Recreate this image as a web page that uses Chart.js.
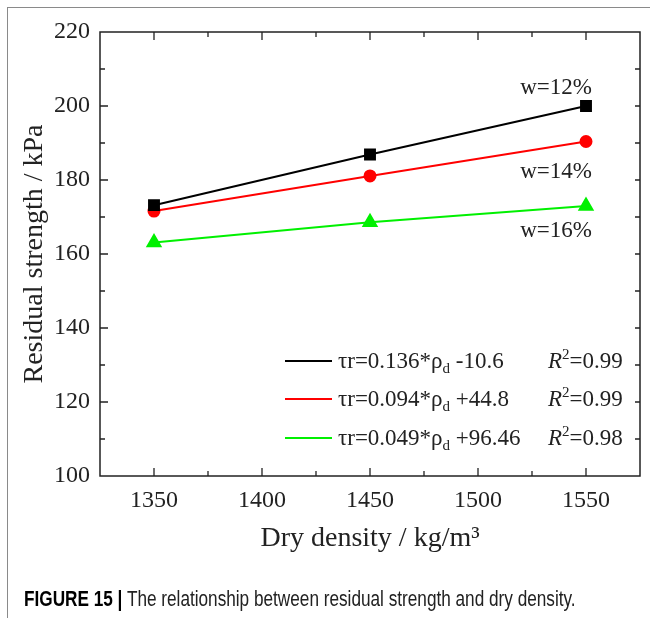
<!DOCTYPE html>
<html>
<head>
<meta charset="utf-8">
<script src="https://cdn.jsdelivr.net/npm/chart.js@4.4.1/dist/chart.umd.min.js"></script>
<style>
  body { margin: 0; background: #fff; }
  #wrap { position: relative; width: 650px; height: 618px; overflow: hidden; }
  #frame { position: absolute; left: 7px; top: 7px; right: -2px; bottom: -2px;
           border-left: 1px solid #8a8a8a; border-top: 1px solid #8a8a8a; }
  #caption { position: absolute; left: 24px; top: 586px; font-family: "Liberation Sans", sans-serif;
             font-size: 17.2px; line-height: 20px; color: #222; white-space: nowrap;
             transform: scaleY(1.25); transform-origin: 0 0; }
  #caption b { color: #000; }
</style>
</head>
<body>
<div id="wrap">
  <div id="frame"></div>
  <canvas id="myChart" width="650" height="618"></canvas>
  <div id="caption"><b>FIGURE 15 |</b> The relationship between residual strength and dry density.</div>
</div>
<script>
// data
var dryDensity = [1350, 1450, 1550];
var w12 = [173.2, 186.9, 200.0];
var w14 = [171.6, 181.1, 190.4];
var w16 = [163.1, 168.6, 173.0];

var seriesNames = ["w=12%", "w=14%", "w=16%"];
var fitSlope = ["0.136", "0.094", "0.049"];
var fitIntercept = ["-10.6", "+44.8", "+96.46"];
var fitR2 = ["0.99", "0.99", "0.98"];

var lineColors = ["#000000", "#ff0000", "#00f000"];
var serif = '"Liberation Serif", "Times New Roman", serif';

function toPoints(ys) {
  return dryDensity.map(function (x, i) { return { x: x, y: ys[i] }; });
}

// inward ticks on all four sides plus the box
var frameTicks = {
  id: 'frameTicks',
  afterDraw: function (chart) {
    var ctx = chart.ctx, a = chart.chartArea;
    var xs = chart.scales.x, ys = chart.scales.y;
    ctx.save();
    ctx.strokeStyle = '#222';
    ctx.lineWidth = 1.5;
    ctx.strokeRect(a.left, a.top, a.right - a.left, a.bottom - a.top);
    ctx.lineWidth = 1.3;
    ctx.beginPath();
    xs.ticks.forEach(function (t) {
      if (t.value <= xs.min || t.value >= xs.max) return;
      var px = xs.getPixelForValue(t.value);
      var len = t.value % 50 === 0 ? 8 : 5;
      ctx.moveTo(px, a.bottom); ctx.lineTo(px, a.bottom - len);
      ctx.moveTo(px, a.top); ctx.lineTo(px, a.top + len);
    });
    ys.ticks.forEach(function (t) {
      if (t.value <= ys.min || t.value >= ys.max) return;
      var py = ys.getPixelForValue(t.value);
      var len = t.value % 20 === 0 ? 8 : 5;
      ctx.moveTo(a.left, py); ctx.lineTo(a.left + len, py);
      ctx.moveTo(a.right, py); ctx.lineTo(a.right - 5, py);
    });
    ctx.stroke();
    ctx.restore();
  }
};

// series labels next to the last points and the fit legend
var notes = {
  id: 'notes',
  afterDraw: function (chart) {
    var ctx = chart.ctx, xs = chart.scales.x, ys = chart.scales.y;
    var last = dryDensity.length - 1;
    var lastY = [w12[last], w14[last], w16[last]];
    var dy = [-18, 30, 25];
    ctx.save();
    ctx.fillStyle = '#222';
    ctx.font = '23px ' + serif;
    ctx.textAlign = 'right';
    ctx.textBaseline = 'middle';
    for (var i = 0; i < 3; i++) {
      ctx.fillText(seriesNames[i], xs.getPixelForValue(dryDensity[last]) + 6, ys.getPixelForValue(lastY[i]) + dy[i]);
    }

    ctx.textAlign = 'left';
    ctx.textBaseline = 'alphabetic';
    var rows = [368, 406, 445];
    for (var j = 0; j < 3; j++) {
      var y = rows[j];
      ctx.strokeStyle = lineColors[j];
      ctx.lineWidth = 2;
      ctx.beginPath();
      ctx.moveTo(285, y - 7); ctx.lineTo(332, y - 7);
      ctx.stroke();

      var x = 338;
      ctx.font = '23px ' + serif;
      var s1 = 'τr=' + fitSlope[j] + '*ρ';
      ctx.fillText(s1, x, y); x += ctx.measureText(s1).width;
      ctx.font = '15px ' + serif;
      ctx.fillText('d', x, y + 5); x += ctx.measureText('d').width;
      ctx.font = '23px ' + serif;
      ctx.fillText(' ' + fitIntercept[j], x, y);

      x = 548;
      ctx.font = 'italic 23px ' + serif;
      ctx.fillText('R', x, y); x += ctx.measureText('R').width;
      ctx.font = '15px ' + serif;
      ctx.fillText('2', x, y - 9); x += ctx.measureText('2').width;
      ctx.font = '23px ' + serif;
      ctx.fillText('=' + fitR2[j], x, y);
    }
    ctx.restore();
  }
};

new Chart("myChart", {
  type: "line",
  data: {
    datasets: [
      { label: seriesNames[0], data: toPoints(w12), borderColor: lineColors[0], backgroundColor: lineColors[0],
        pointStyle: 'rect', pointRadius: 7, borderWidth: 2 },
      { label: seriesNames[1], data: toPoints(w14), borderColor: lineColors[1], backgroundColor: lineColors[1],
        pointStyle: 'circle', pointRadius: 5.5, borderWidth: 2 },
      { label: seriesNames[2], data: toPoints(w16), borderColor: lineColors[2], backgroundColor: lineColors[2],
        pointStyle: 'triangle', pointRadius: 7.5, borderWidth: 2 }
    ]
  },
  options: {
    responsive: false,
    animation: false,
    devicePixelRatio: 1,
    layout: { padding: { left: 0, top: 32, right: 8, bottom: 62 } },
    plugins: { legend: { display: false }, tooltip: { enabled: false } },
    elements: { line: { tension: 0 }, point: { borderWidth: 0 } },
    scales: {
      x: {
        type: 'linear', min: 1325, max: 1575,
        grid: { display: false, drawTicks: false },
        border: { display: false },
        ticks: {
          stepSize: 25, padding: 10, color: '#222', maxRotation: 0, autoSkip: false,
          font: { family: serif, size: 24 },
          callback: function (v) { return v % 50 === 0 ? String(v) : ''; }
        },
        title: { display: true, text: 'Dry density / kg/m³', color: '#222',
                 font: { family: serif, size: 28 }, padding: { top: 0, bottom: 1 } },
        afterFit: function (s) { s.height = 80; }
      },
      y: {
        min: 100, max: 220,
        grid: { display: false, drawTicks: false },
        border: { display: false },
        ticks: {
          stepSize: 10, padding: 10, color: '#222',
          font: { family: serif, size: 24 },
          callback: function (v) { return v % 20 === 0 ? String(v) : ''; }
        },
        title: { display: true, text: 'Residual strength / kPa', color: '#222',
                 font: { family: serif, size: 28 }, padding: { top: 18, bottom: 0 } },
        afterFit: function (s) { s.width = 100; }
      }
    }
  },
  plugins: [frameTicks, notes]
});
</script>
</body>
</html>
